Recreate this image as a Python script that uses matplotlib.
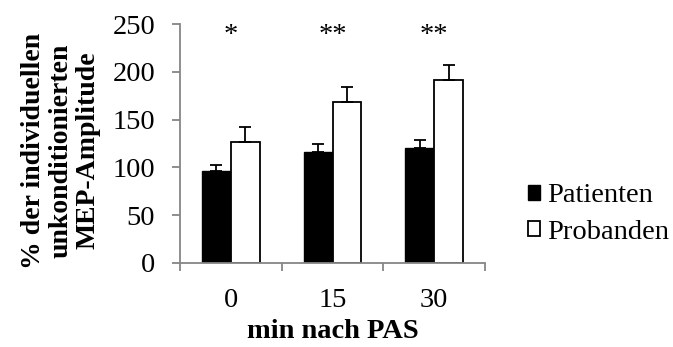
import numpy as np
import matplotlib
matplotlib.use("Agg")
import matplotlib.pyplot as plt

# data
categories = ["0", "15", "30"]
patienten = [96, 116, 120]
patienten_err = [6, 8, 9]
probanden = [127, 168, 191]
probanden_err = [15, 16, 16]
stars = ["*", "**", "**"]

plt.rcParams["font.family"] = ["Liberation Serif", "DejaVu Serif"]
fs = 20.5

fig = plt.figure(figsize=(6.73, 3.47), dpi=100)
ax = fig.add_axes([180 / 673, 84 / 347, 305 / 673, 239 / 347])

x = np.arange(len(categories))
w = 0.285
err_kw = dict(ecolor="black", elinewidth=1.3, capsize=4.5, capthick=1.3)

ax.bar(x - w / 2, patienten, w, yerr=[np.zeros(3), patienten_err],
       color="black", edgecolor="black", linewidth=1.0,
       error_kw=err_kw, label="Patienten", zorder=2)
ax.bar(x + w / 2, probanden, w, yerr=[np.zeros(3), probanden_err],
       color="white", edgecolor="black", linewidth=1.3,
       error_kw=err_kw, label="Probanden", zorder=2)

for i, s in enumerate(stars):
    ax.text(x[i], 238, s, ha="center", va="center", fontsize=fs)

ax.set_xlim(-0.5, 2.5)
ax.set_ylim(0, 250)
ax.set_yticks(np.arange(0, 251, 50))
ax.set_xticks(x)
ax.set_xticklabels(categories)
ax.set_xticks([-0.5, 0.5, 1.5, 2.5], minor=True)

for s in ["top", "right"]:
    ax.spines[s].set_visible(False)
for s in ["left", "bottom"]:
    ax.spines[s].set_color("#868686")
    ax.spines[s].set_linewidth(1.3)

ax.tick_params(axis="y", direction="out", length=6, width=1.3, color="#868686",
               labelsize=fs, pad=12)
ax.tick_params(axis="x", which="major", length=0, labelsize=fs, pad=18)
ax.tick_params(axis="x", which="minor", direction="out", length=6, width=1.3,
               color="#868686")

ax.set_xlabel("min nach PAS", fontsize=fs, fontweight="bold", labelpad=4)
ax.set_ylabel("% der individuellen\nunkonditionierten\nMEP-Amplitude",
              fontsize=20, fontweight="bold", linespacing=1.1)
ax.yaxis.set_label_coords(-0.262, 0.47)

ax.legend(loc="center left", bbox_to_anchor=(1.14, 0.205), frameon=False,
          fontsize=fs, handlelength=0.42, handleheight=0.42, handletextpad=0.25,
          labelspacing=0.4, borderpad=0, borderaxespad=0)

fig.savefig("out.png", dpi=100)
